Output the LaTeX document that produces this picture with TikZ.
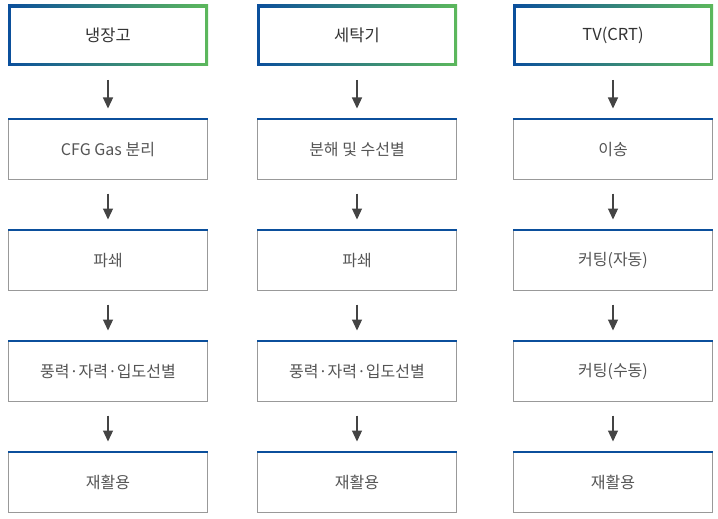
\documentclass[tikz,border=0pt]{standalone}
\usepackage{fontspec}
\setmainfont{Noto Sans CJK KR}
\usetikzlibrary{arrows.meta}
\definecolor{blueC}{HTML}{0B4F9C}
\definecolor{greenC}{HTML}{5CB85C}
\definecolor{boxgray}{HTML}{999999}
\definecolor{txtgray}{HTML}{555555}
\definecolor{hdrtxt}{HTML}{333333}
\definecolor{arrgray}{HTML}{444444}
\tikzset{
  x=1pt,y=-1pt,
  header/.style={rectangle, minimum width=200pt, minimum height=61pt, inner sep=0pt, outer sep=0pt,
    left color=blueC, right color=greenC, text=hdrtxt, font=\fontsize{16.5}{19}\selectfont,
    path picture={\fill[white] ([shift={(3pt,3pt)}]path picture bounding box.south west) rectangle ([shift={(-3pt,-3pt)}]path picture bounding box.north east);}},
  stepbox/.style={rectangle, draw=boxgray, line width=1pt, fill=white, minimum width=199pt, minimum height=60pt,
    inner sep=0pt, outer sep=0pt, text=txtgray, font=\fontsize{16}{19}\selectfont},
  topbar/.style={fill=blueC},
  flow/.style={draw=arrgray, line width=1.2pt, -{Triangle[width=10pt,length=11pt]}, shorten <=14pt, shorten >=11pt}
}
\begin{document}
\begin{tikzpicture}
\useasboundingbox[fill=white] (0,0) rectangle (718,519);
% column 1
\node[header] (a0) at (108,35.5) {냉장고};
\node[stepbox] (a1) at (108,149.5) {CFG Gas 분리};
\node[stepbox] (a2) at (108,260.5) {파쇄};
\node[stepbox] (a3) at (108,371.5) {풍력·자력·입도선별};
\node[stepbox] (a4) at (108,482.5) {재활용};
% column 2
\node[header] (b0) at (357,35.5) {세탁기};
\node[stepbox] (b1) at (357,149.5) {분해 및 수선별};
\node[stepbox] (b2) at (357,260.5) {파쇄};
\node[stepbox] (b3) at (357,371.5) {풍력·자력·입도선별};
\node[stepbox] (b4) at (357,482.5) {재활용};
% column 3
\node[header] (c0) at (613,35.5) {TV(CRT)};
\node[stepbox] (c1) at (613,149.5) {이송};
\node[stepbox] (c2) at (613,260.5) {커팅(자동)};
\node[stepbox] (c3) at (613,371.5) {커팅(수동)};
\node[stepbox] (c4) at (613,482.5) {재활용};
\foreach \c in {a,b,c}{
  \foreach \i in {1,2,3,4}{
    \fill[topbar] ([shift={(-0.5pt,-0.5pt)}]\c\i.north west) rectangle ([shift={(0.5pt,2pt)}]\c\i.north east);
  }
  \draw[flow] (\c0.south) -- (\c1.north);
  \draw[flow] (\c1.south) -- (\c2.north);
  \draw[flow] (\c2.south) -- (\c3.north);
  \draw[flow] (\c3.south) -- (\c4.north);
}
\end{tikzpicture}
\end{document}
